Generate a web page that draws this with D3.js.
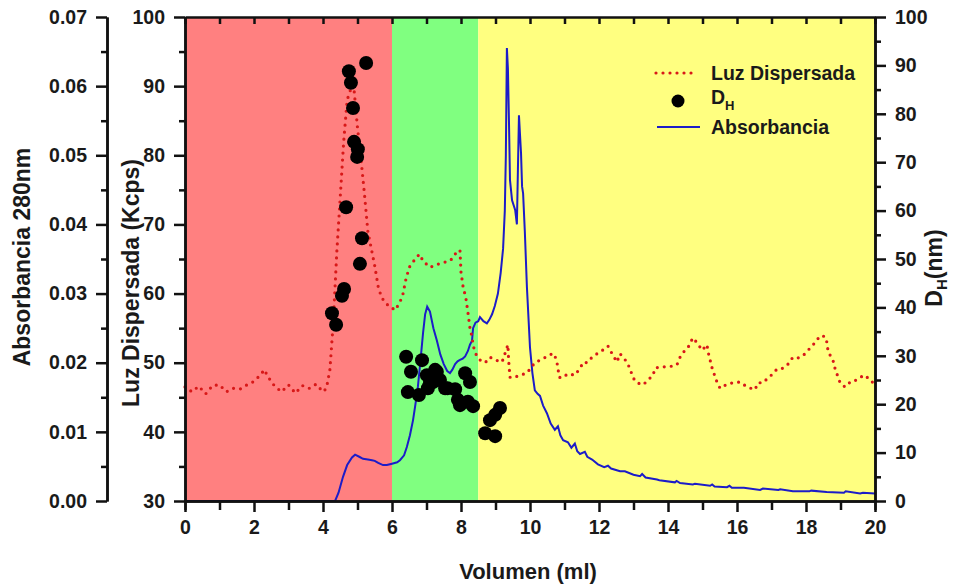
<!DOCTYPE html>
<html>
<head>
<meta charset="utf-8">
<script src="https://cdn.jsdelivr.net/npm/d3@7"></script>
<style>
  body { margin: 0; background: #fff; }
  svg text { font-family: "Liberation Sans", Arial, sans-serif; font-weight: bold; fill: #1a1a1a; }
</style>
</head>
<body>
<svg id="chart" width="953" height="585"></svg>
<script>
// regions of the elution (ml)
var regionStart = [0, 6, 8.5];
var regionEnd = [6, 8.5, 20];
var regionColor = ["#ff8080", "#80ff80", "#ffff80"];

// Luz Dispersada (Kcps)
var luzVol = [0,0.2,0.4,0.6,0.8,1.0,1.2,1.4,1.6,1.8,2.0,2.2,2.3,2.4,2.6,2.8,3.0,3.2,3.4,3.6,3.8,4.0,4.1,4.2,4.3,4.4,4.5,4.6,4.7,4.8,4.9,5.0,5.1,5.2,5.3,5.5,5.6,5.7,5.9,6.1,6.3,6.4,6.5,6.7,6.8,6.9,7.1,7.3,7.5,7.7,7.8,7.97,8.0,8.06,8.14,8.2,8.26,8.32,8.35,8.41,8.55,8.7,8.84,8.99,9.19,9.28,9.36,9.38,9.42,9.51,9.71,9.91,10.14,10.38,10.64,10.7,10.78,10.85,10.93,11.1,11.3,11.45,11.55,11.65,11.8,12.03,12.17,12.26,12.38,12.52,12.61,12.81,12.9,12.99,13.1,13.28,13.42,13.57,13.62,13.77,13.91,14.12,14.26,14.35,14.49,14.58,14.72,14.84,14.99,15.13,15.16,15.22,15.28,15.42,15.51,15.71,15.88,16.09,16.29,16.52,16.61,16.75,16.9,17.04,17.16,17.33,17.48,17.62,17.77,17.91,18.06,18.26,18.41,18.55,18.61,18.64,18.78,18.84,18.93,18.99,19.13,19.28,19.36,19.57,19.71,19.91,20];
var luzKcps = [46.5,45.8,46.6,45.5,46.7,46.8,45.8,46.3,46.2,46.8,47.3,48.3,49.0,48.0,46.6,45.8,46.8,45.6,46.7,46.3,46.9,45.8,46.3,49,56,66,74,82,88,89.5,89.5,84,79.5,74.5,69,64,61,59.4,58.2,57.6,59.5,62,63.8,65.2,65.7,64.7,63.8,64.2,64.5,64.8,65.6,66.3,63.1,61,59.4,57.3,55,53.7,52.6,51.4,50.4,50,50.8,50.4,50.1,51.4,52.6,50.4,47.9,47.8,48.2,48.5,50,50.6,51.3,51.3,50.1,47.9,47.8,48.4,48.2,49.2,50.1,50,50.8,51.6,52,52.4,51.3,50.1,51.3,50.1,49.1,47.8,47.1,46.8,47.5,48.2,49.2,49.4,49.4,49.5,49.7,50.8,51.8,52.2,53.6,52.9,51.8,52.6,51.6,50.4,49.2,47.2,46.3,46.9,47.1,47.2,46.5,46.1,47.1,47.1,47.8,48.4,49.1,49.2,49.8,50.8,50.7,51,51.8,52.9,53.9,53.8,52.9,51.6,50.4,49.2,47.9,47.1,46.5,47.2,47.2,47.9,48.2,47.2,47.2];

// Absorbancia 280nm
var absVol = [0,4.35,4.45,4.58,4.7,4.84,4.93,5.05,5.16,5.3,5.42,5.5,5.6,5.74,5.85,6.0,6.15,6.23,6.35,6.43,6.52,6.61,6.68,6.75,6.82,6.9,6.96,7.02,7.1,7.2,7.3,7.4,7.5,7.6,7.68,7.75,7.83,7.9,7.97,8.05,8.12,8.2,8.26,8.32,8.35,8.42,8.5,8.55,8.65,8.75,8.82,8.9,8.98,9.07,9.15,9.22,9.27,9.3,9.33,9.36,9.39,9.42,9.48,9.57,9.62,9.65,9.68,9.71,9.74,9.77,9.8,9.85,9.91,10.0,10.07,10.14,10.22,10.29,10.38,10.49,10.6,10.72,10.81,10.88,10.96,11.1,11.2,11.3,11.37,11.45,11.59,11.66,11.8,11.97,12.15,12.26,12.35,12.61,12.75,13.0,13.19,13.25,13.35,13.68,13.75,14.2,14.25,14.35,14.72,14.78,15.22,15.28,15.35,15.71,15.78,15.85,16.2,16.67,16.75,17.2,17.25,17.62,18.1,18.15,18.6,19.1,19.15,19.57,19.65,20];
var absVal = [0,0,0.0012,0.0035,0.0052,0.0063,0.0067,0.0064,0.0061,0.006,0.0059,0.0058,0.0055,0.0052,0.0052,0.0054,0.0056,0.0059,0.0066,0.0078,0.0095,0.0117,0.014,0.0165,0.02,0.0243,0.027,0.0281,0.0274,0.025,0.0232,0.0212,0.0198,0.0188,0.0185,0.019,0.0198,0.0202,0.0204,0.0206,0.0209,0.0217,0.0226,0.0232,0.025,0.0258,0.026,0.0266,0.026,0.0257,0.0262,0.027,0.0282,0.03,0.033,0.0365,0.042,0.05,0.0655,0.0625,0.055,0.0464,0.0435,0.0421,0.04,0.048,0.0558,0.053,0.0503,0.0455,0.0445,0.039,0.031,0.0222,0.0185,0.016,0.0155,0.0152,0.0138,0.0127,0.0112,0.0103,0.0108,0.0095,0.0088,0.0085,0.0077,0.0083,0.0072,0.0068,0.0071,0.0064,0.006,0.0053,0.0049,0.0051,0.0047,0.0043,0.0043,0.0038,0.0036,0.0039,0.0034,0.0031,0.003,0.0027,0.0029,0.0026,0.0024,0.0025,0.0022,0.0024,0.0021,0.002,0.0022,0.0019,0.0019,0.0016,0.0018,0.0016,0.0017,0.0014,0.0014,0.0015,0.0013,0.0012,0.0014,0.0011,0.0012,0.0011];

// D_H (nm)
var dhVol = [4.26,4.38,4.55,4.61,4.67,4.75,4.81,4.87,4.9,4.99,5.01,5.07,5.13,5.25,6.41,6.46,6.55,6.78,6.87,7.01,7.04,7.1,7.19,7.25,7.3,7.39,7.54,7.61,7.83,7.91,7.97,8.12,8.2,8.26,8.35,8.7,8.84,8.99,8.99,9.13];
var dhNm = [38.8,36.4,42.4,43.8,60.7,88.8,86.4,81.2,74.2,71.1,72.7,49,54.3,90.5,29.8,22.5,26.7,21.9,29.1,26,23.3,24.6,24.6,27.1,26.7,25,23.3,23.3,23.1,20.9,19.8,26.4,20.5,24.6,19.6,14,16.7,17.8,13.4,19.2];

var luzTicks = [30,40,50,60,70,80,90,100];
var absTicks = [0,0.01,0.02,0.03,0.04,0.05,0.06,0.07];
var dhTicks = [0,10,20,30,40,50,60,70,80,90,100];
var volTicks = [0,2,4,6,8,10,12,14,16,18,20];

// plot box (window.top is read only, so other names)
var pLeft = 185, pRight = 875, pTop = 17, pBottom = 501;
var svg = d3.select("#chart");

var x = d3.scaleLinear().domain([0, 20]).range([pLeft, pRight]);
var yLuz = d3.scaleLinear().domain([30, 100]).range([pBottom, pTop]);
var yAbs = d3.scaleLinear().domain([0, 0.07]).range([pBottom, pTop]);
var yDH = d3.scaleLinear().domain([0, 100]).range([pBottom, pTop]);

// background regions
for (var i = 0; i < regionStart.length; i++) {
  svg.append("rect")
    .attr("x", x(regionStart[i]))
    .attr("y", pTop)
    .attr("width", x(regionEnd[i]) - x(regionStart[i]))
    .attr("height", pBottom - pTop)
    .attr("fill", regionColor[i]);
}

// absorbance line
var absLine = d3.line()
  .x(function(d, i) { return x(absVol[i]); })
  .y(function(d) { return yAbs(d); });
svg.append("path")
  .datum(absVal)
  .attr("d", absLine)
  .attr("fill", "none")
  .attr("stroke", "#1c1cc8")
  .attr("stroke-width", 2);

// scattered light, dotted
var luzLine = d3.line()
  .x(function(d, i) { return x(luzVol[i]); })
  .y(function(d) { return yLuz(d); });
svg.append("path")
  .datum(luzKcps)
  .attr("d", luzLine)
  .attr("fill", "none")
  .attr("stroke", "#d81818")
  .attr("stroke-width", 3.2)
  .attr("stroke-linecap", "round")
  .attr("stroke-dasharray", "0,7");

// DH dots
svg.selectAll("circle.dh")
  .data(dhNm)
  .enter()
  .append("circle")
  .attr("class", "dh")
  .attr("cx", function(d, i) { return x(dhVol[i]); })
  .attr("cy", function(d) { return yDH(d); })
  .attr("r", 7)
  .attr("fill", "#000");

// axes
function styleAxis(g) {
  g.selectAll("path.domain").attr("stroke", "#111").attr("stroke-width", 2.5);
  g.selectAll(".tick line").attr("stroke", "#111").attr("stroke-width", 2.5);
  g.selectAll(".tick text").style("font-size", "19.5px").attr("fill", "#1a1a1a");
}
function minorAxis(axis, vals) {
  return axis.tickValues(vals).tickSize(6).tickFormat("").tickSizeOuter(0);
}
var minorAbs = [0.005,0.015,0.025,0.035,0.045,0.055,0.065];
var minor5 = [35,45,55,65,75,85,95];
var minorDH = [5,15,25,35,45,55,65,75,85,95];
var minorVol = [1,3,5,7,9,11,13,15,17,19];

var gAbs = svg.append("g").attr("transform", "translate(107,0)")
  .call(d3.axisLeft(yAbs).tickValues(absTicks).tickFormat(d3.format(".2f")).tickSize(11).tickPadding(9).tickSizeOuter(0));
styleAxis(gAbs);
styleAxis(svg.append("g").attr("transform", "translate(107,0)").call(minorAxis(d3.axisLeft(yAbs), minorAbs)));

var gLuz = svg.append("g").attr("transform", "translate(" + pLeft + ",0)")
  .call(d3.axisLeft(yLuz).tickValues(luzTicks).tickSize(11).tickPadding(9).tickSizeOuter(0));
styleAxis(gLuz);
styleAxis(svg.append("g").attr("transform", "translate(" + pLeft + ",0)").call(minorAxis(d3.axisLeft(yLuz), minor5)));

var gDH = svg.append("g").attr("transform", "translate(" + pRight + ",0)")
  .call(d3.axisRight(yDH).tickValues(dhTicks).tickSize(11).tickPadding(9).tickSizeOuter(0));
styleAxis(gDH);
styleAxis(svg.append("g").attr("transform", "translate(" + pRight + ",0)").call(minorAxis(d3.axisRight(yDH), minorDH)));

var gX = svg.append("g").attr("transform", "translate(0," + pBottom + ")")
  .call(d3.axisBottom(x).tickValues(volTicks).tickSize(11).tickPadding(8).tickSizeOuter(0));
styleAxis(gX);
styleAxis(svg.append("g").attr("transform", "translate(0," + pBottom + ")").call(minorAxis(d3.axisBottom(x), minorVol).tickSize(9)));

var gTop = svg.append("g").attr("transform", "translate(0," + pTop + ")")
  .call(d3.axisTop(x).tickValues(d3.range(0, 21)).tickSize(-7).tickFormat("").tickSizeOuter(0));
styleAxis(gTop);

// axis titles
svg.append("text").attr("x", 528).attr("y", 579).attr("text-anchor", "middle")
  .style("font-size", "22px").text("Volumen (ml)");
svg.append("text").attr("transform", "translate(30,257) rotate(-90)").attr("text-anchor", "middle")
  .style("font-size", "23px").text("Absorbancia 280nm");
svg.append("text").attr("transform", "translate(139,283) rotate(-90)").attr("text-anchor", "middle")
  .style("font-size", "23px").text("Luz Dispersada (Kcps)");
var dhTitle = svg.append("text").attr("transform", "translate(942,268) rotate(-90)").attr("text-anchor", "middle")
  .style("font-size", "23px");
dhTitle.append("tspan").text("D");
dhTitle.append("tspan").attr("dy", 5).style("font-size", "15px").text("H");
dhTitle.append("tspan").attr("dy", -5).text("(nm)");

// legend
var lg = svg.append("g");
lg.append("line").attr("x1", 656).attr("x2", 698).attr("y1", 73).attr("y2", 73)
  .attr("stroke", "#d81818").attr("stroke-width", 3.2).attr("stroke-linecap", "round").attr("stroke-dasharray", "0,7");
lg.append("text").attr("x", 711).attr("y", 80).style("font-size", "19.5px").text("Luz Dispersada");
lg.append("circle").attr("cx", 678).attr("cy", 101).attr("r", 6.5).attr("fill", "#000");
var dhLeg = lg.append("text").attr("x", 711).attr("y", 104).style("font-size", "19.5px");
dhLeg.append("tspan").text("D");
dhLeg.append("tspan").attr("dy", 6).style("font-size", "13px").text("H");
lg.append("line").attr("x1", 657).attr("x2", 700).attr("y1", 127).attr("y2", 127)
  .attr("stroke", "#1c1cc8").attr("stroke-width", 2);
lg.append("text").attr("x", 711).attr("y", 134).style("font-size", "19.5px").text("Absorbancia");
</script>
</body>
</html>
